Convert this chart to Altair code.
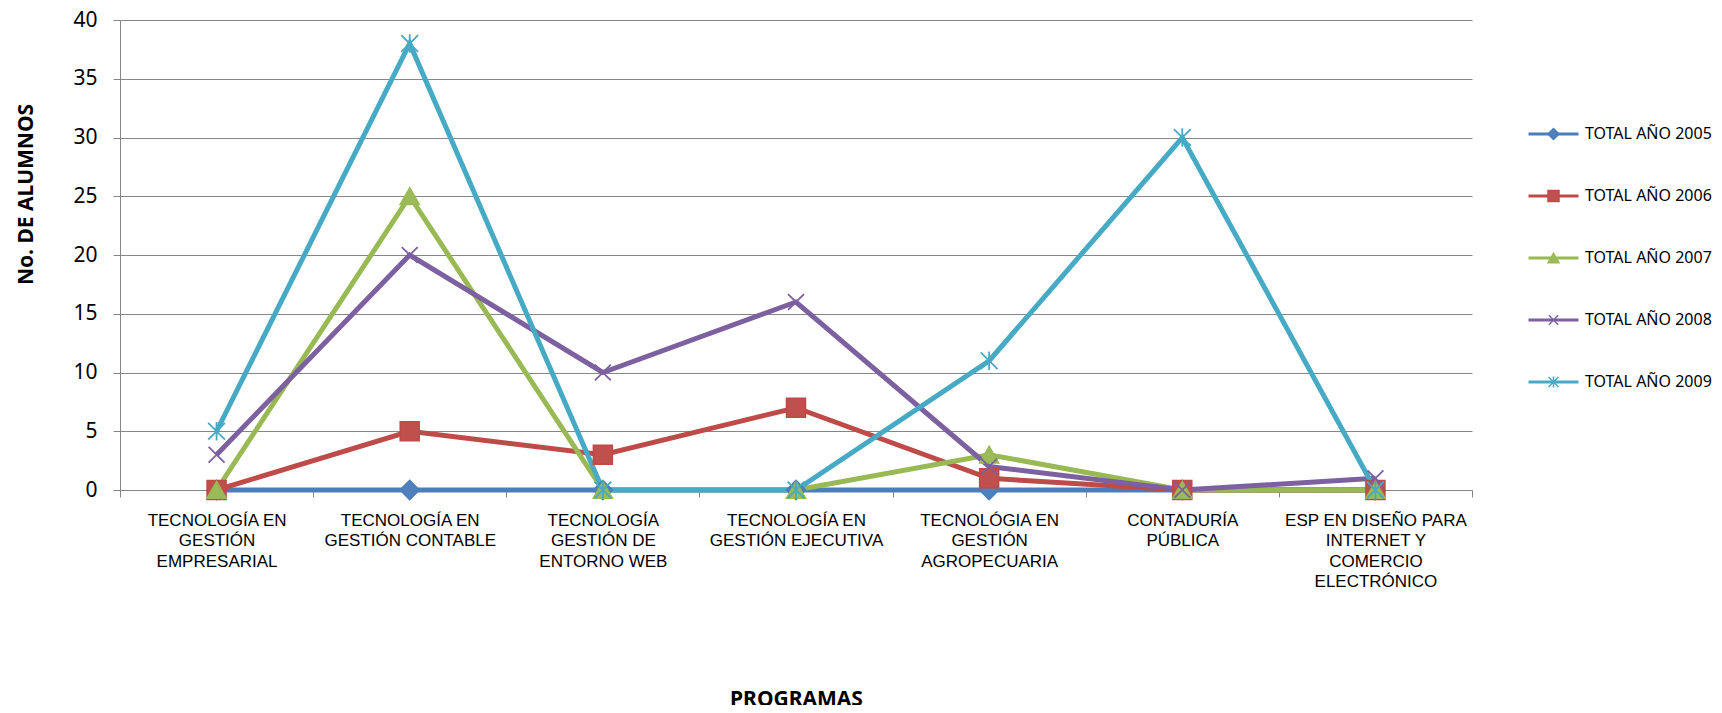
import altair as alt
import pandas as pd

categories = [
    "TECNOLOGÍA EN\nGESTIÓN\nEMPRESARIAL",
    "TECNOLOGÍA EN\nGESTIÓN CONTABLE",
    "TECNOLOGÍA\nGESTIÓN DE\nENTORNO WEB",
    "TECNOLOGÍA EN\nGESTIÓN EJECUTIVA",
    "TECNOLÓGIA EN\nGESTIÓN\nAGROPECUARIA",
    "CONTADURÍA\nPÚBLICA",
    "ESP EN DISEÑO PARA\nINTERNET Y\nCOMERCIO\nELECTRÓNICO",
]
series_names = ["TOTAL AÑO 2005", "TOTAL AÑO 2006", "TOTAL AÑO 2007",
                "TOTAL AÑO 2008", "TOTAL AÑO 2009"]
total_2005 = [0, 0, 0, 0, 0, 0, 0]
total_2006 = [0, 5, 3, 7, 1, 0, 0]
total_2007 = [0, 25, 0, 0, 3, 0, 0]
total_2008 = [3, 20, 10, 16, 2, 0, 1]
total_2009 = [5, 38, 0, 0, 11, 30, 0]
y_ticks = [0, 5, 10, 15, 20, 25, 30, 35, 40]

line_colors = ["#4A7EBB", "#BE4B48", "#98B954", "#7D60A0", "#46AAC5"]
fill_colors = ["#4F81BD", "#C0504D", "#9BBB59", "transparent", "transparent"]
marker_shapes = [
    "diamond",
    "square",
    "triangle-up",
    "M-0.85,-0.85L0.85,0.85M-0.85,0.85L0.85,-0.85",
    "M-0.9,-0.9L0.9,0.9M-0.9,0.9L0.9,-0.9M0,-1L0,1",
]

rows = []
for name, vals in zip(series_names, [total_2005, total_2006, total_2007, total_2008, total_2009]):
    for c, v in zip(categories, vals):
        rows.append({"programa": c, "serie": name, "serie2": name, "alumnos": v})
df = pd.DataFrame(rows)

GRAY = "#868686"

x_enc = alt.X(
    "programa:N",
    sort=categories,
    bandPosition=0.5,
    scale=alt.Scale(paddingInner=0, paddingOuter=0),
    axis=alt.Axis(
        title="PROGRAMAS",
        labelExpr="split(datum.label, '\\n')",
        labelAngle=0,
        labelFont="Liberation Sans",
        labelFontSize=17,
        labelLineHeight=20.5,
        labelColor="#000000",
        labelPadding=15,
        labelBaseline="top",
        labelOverlap=False,
        labelLimit=400,
        tickBand="extent",
        tickSize=7,
        tickColor=GRAY,
        domainColor=GRAY,
        grid=False,
        titleFont="Noto Sans",
        titleFontSize=21,
        titleFontWeight="bold",
        titleColor="#000000",
        titleX=676,
        titleY=215,
        titleAlign="center",
        titleBaseline="alphabetic",
    ),
)

y_enc = alt.Y(
    "alumnos:Q",
    scale=alt.Scale(domain=[0, 40], nice=False),
    axis=alt.Axis(
        values=y_ticks,
        title="No. DE ALUMNOS",
        titleAngle=270,
        titleX=-88,
        titleY=174,
        titleAlign="center",
        titleBaseline="alphabetic",
        titleFont="Noto Sans",
        titleFontSize=21,
        titleFontWeight="bold",
        titleColor="#000000",
        labelFont="Noto Sans",
        labelFontSize=21,
        labelColor="#000000",
        labelPadding=16,
        tickSize=7,
        tickColor=GRAY,
        domainColor=GRAY,
        grid=True,
        gridColor=GRAY,
    ),
)

line_legend = alt.Legend(
    orient="none", legendX=1407, legendY=83,
    symbolType="stroke", symbolSize=2500, symbolStrokeWidth=3,
    labelFont="Noto Sans", labelFontSize=16, labelColor="#000000",
    labelOffset=5, clipHeight=62, rowPadding=0, padding=0,
)
point_legend = alt.Legend(
    orient="none", legendX=1427, legendY=83,
    symbolSize=120, symbolStrokeWidth=1.5,
    labelExpr="''", labelFontSize=1, labelOpacity=0,
    clipHeight=62, rowPadding=0, padding=0,
)

lines = alt.Chart(df).mark_line(strokeWidth=5).encode(
    x=x_enc,
    y=y_enc,
    color=alt.Color("serie:N", title=None, sort=series_names,
                    scale=alt.Scale(domain=series_names, range=line_colors),
                    legend=line_legend),
)

points = alt.Chart(df).mark_point(filled=True, opacity=1, size=350, strokeWidth=1.8).encode(
    x=x_enc,
    y=y_enc,
    shape=alt.Shape("serie2:N", title=None,
                    scale=alt.Scale(range=marker_shapes),
                    legend=point_legend),
    fill=alt.Fill("serie2:N", title=None,
                  scale=alt.Scale(range=fill_colors),
                  legend=point_legend),
    stroke=alt.Stroke("serie2:N", title=None,
                      scale=alt.Scale(range=line_colors),
                      legend=point_legend),
)

chart = alt.layer(lines, points).properties(
    width=1352,
    height=470,
    autosize=alt.AutoSizeParams(type="none"),
    padding={"left": 112, "top": 12, "right": 240, "bottom": 215},
    background="white",
).configure_view(stroke=None)

chart.save("out.html", embed_options={"renderer": "svg", "actions": False})
